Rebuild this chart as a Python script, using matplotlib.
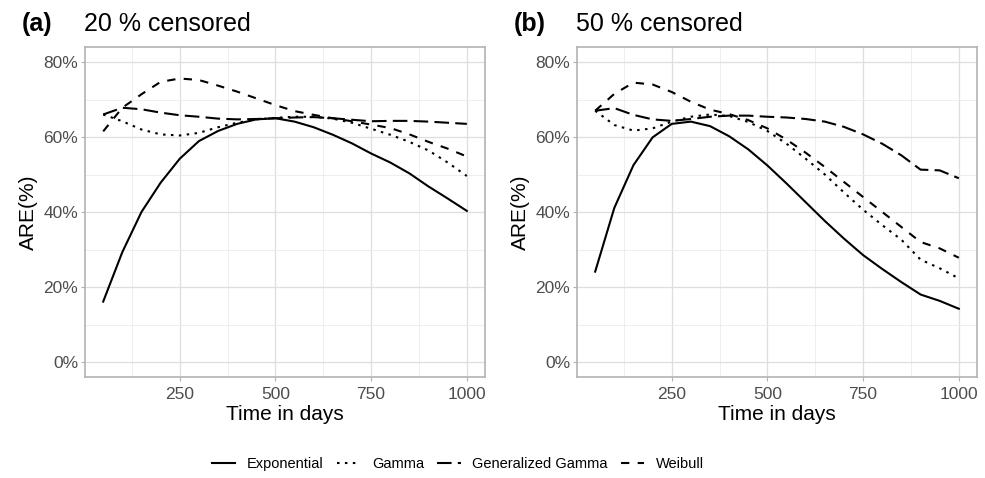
import matplotlib.pyplot as plt
from matplotlib.ticker import FixedLocator, PercentFormatter

plt.rcParams['font.family'] = ['Liberation Sans', 'DejaVu Sans']

days = [50, 100, 150, 200, 250, 300, 350, 400, 450, 500,
        550, 600, 650, 700, 750, 800, 850, 900, 950, 1000]

# 20 % censored
exp_20 = [16.1, 29.3, 40.0, 47.8, 54.2, 58.9, 61.6, 63.5, 64.7, 65.0,
          64.1, 62.6, 60.6, 58.3, 55.6, 53.2, 50.3, 46.8, 43.6, 40.3]
gam_20 = [66.0, 64.2, 62.0, 60.7, 60.4, 61.1, 62.6, 63.8, 64.7, 65.1,
          65.4, 65.4, 64.9, 63.8, 62.2, 60.6, 58.7, 56.4, 53.2, 49.6]
gg_20 = [66.0, 67.8, 67.4, 66.5, 65.8, 65.4, 64.9, 64.7, 64.8, 65.0,
         65.2, 65.3, 65.0, 64.6, 64.2, 64.3, 64.3, 64.1, 63.8, 63.5]
wei_20 = [61.5, 67.8, 71.4, 74.7, 75.6, 75.2, 73.7, 72.1, 70.3, 68.5,
          66.9, 65.9, 65.0, 64.2, 63.3, 62.4, 60.7, 58.7, 56.9, 54.8]

# 50 % censored
exp_50 = [24.1, 41.1, 52.5, 59.9, 63.5, 64.1, 62.9, 60.2, 56.7, 52.4,
          47.6, 42.6, 37.6, 32.9, 28.5, 24.8, 21.3, 18.0, 16.3, 14.2]
gam_50 = [67.0, 63.2, 61.7, 62.3, 64.1, 65.4, 66.0, 65.6, 64.0, 61.6,
          58.2, 54.2, 50.0, 45.2, 40.6, 36.5, 32.6, 27.3, 25.0, 22.3]
gg_50 = [67.0, 67.7, 65.9, 64.7, 64.3, 64.8, 65.4, 65.7, 65.7, 65.4,
         65.2, 64.8, 64.1, 62.7, 60.7, 58.2, 55.1, 51.3, 51.1, 49.0]
wei_50 = [67.0, 71.5, 74.5, 74.0, 72.0, 69.4, 67.3, 66.1, 64.5, 62.3,
          59.3, 55.8, 52.0, 48.0, 44.0, 40.0, 36.0, 32.0, 30.3, 27.8]

models = ['Exponential', 'Gamma', 'Generalized Gamma', 'Weibull']
dash_styles = {
    'Exponential': None,
    'Gamma': (1.2, 2.6),
    'Generalized Gamma': (7, 3),
    'Weibull': (4, 4),
}

panels = [
    ('(a)', '20 % censored', [exp_20, gam_20, gg_20, wei_20]),
    ('(b)', '50 % censored', [exp_50, gam_50, gg_50, wei_50]),
]

W, H = 985, 478
fig = plt.figure(figsize=(W / 100, H / 100), dpi=100)

lefts = [85, 577]
for (tag, title, series), left in zip(panels, lefts):
    ax = fig.add_axes([left / W, (H - 377) / H, 400 / W, 330 / H])
    for name, vals in zip(models, series):
        line, = ax.plot(days, vals, color='black', lw=1.5, label=name)
        if dash_styles[name] is not None:
            line.set_dashes(dash_styles[name])
            line.set_dash_capstyle('butt')

    ax.set_xlim(2.5, 1047.5)
    ax.set_ylim(-4, 84)
    ax.xaxis.set_major_locator(FixedLocator([250, 500, 750, 1000]))
    ax.xaxis.set_minor_locator(FixedLocator([125, 375, 625, 875]))
    ax.yaxis.set_major_locator(FixedLocator([0, 20, 40, 60, 80]))
    ax.yaxis.set_minor_locator(FixedLocator([10, 30, 50, 70]))
    ax.yaxis.set_major_formatter(PercentFormatter(decimals=0))

    ax.grid(which='major', color='#DEDEDE', lw=0.9)
    ax.grid(which='minor', color='#EBEBEB', lw=0.6)
    ax.set_axisbelow(True)
    for sp in ax.spines.values():
        sp.set_color('#B3B3B3')
        sp.set_linewidth(1.2)
    ax.tick_params(which='major', colors='#B3B3B3', length=3, width=0.8,
                   labelcolor='#4D4D4D', labelsize=12.5, pad=2)
    ax.tick_params(axis='x', which='major', pad=4)
    ax.tick_params(which='minor', length=0)

    ax.set_xlabel('Time in days', fontsize=15, labelpad=2)
    ax.set_ylabel('ARE(%)', fontsize=15, labelpad=4)

    fig.text((left - 63) / W, (H - 31) / H, tag, fontsize=18,
             fontweight='bold', va='baseline', ha='left')
    fig.text((left - 1) / W, (H - 31) / H, title, fontsize=18,
             va='baseline', ha='left')

handles, labels = ax.get_legend_handles_labels()
fig.legend(handles, labels, loc='center', bbox_to_anchor=(458 / W, (H - 464) / H),
           ncol=4, frameon=False, fontsize=10.5, handlelength=1.6,
           handletextpad=0.8, columnspacing=0.9)

fig.savefig('out.png', dpi=100)
